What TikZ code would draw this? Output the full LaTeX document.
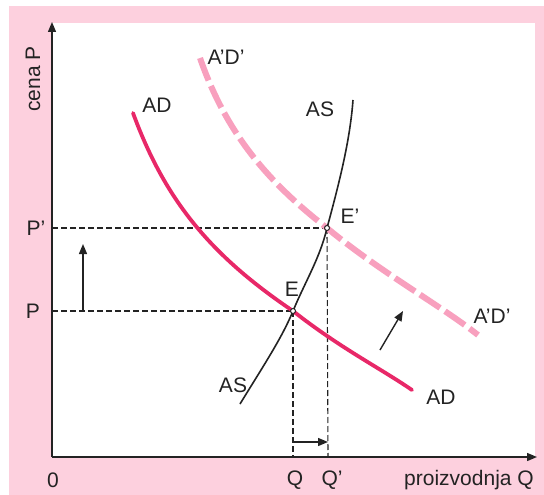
\documentclass[tikz,border=0pt]{standalone}
\usepackage{fontspec}
\setmainfont{Liberation Sans}
\usetikzlibrary{arrows.meta}
\definecolor{bgpink}{RGB}{253,208,222}
\definecolor{adred}{RGB}{232,40,104}
\definecolor{adlight}{RGB}{248,160,190}
\definecolor{ink}{RGB}{35,35,35}
\tikzset{
  lbl/.style={font=\fontsize{21}{23}\selectfont, text=ink, inner sep=0pt},
  axisline/.style={draw=ink, line width=1.4pt},
  guide/.style={draw=ink, line width=1.1pt, dash pattern=on 6pt off 3pt},
  tipped/.style={-{Triangle[length=10pt,width=8pt]}},
  adcurve/.style={draw=adred, line width=3.8pt},
  adshift/.style={draw=adlight, line width=6pt, dash pattern=on 24pt off 6pt},
  ascurve/.style={draw=ink, line width=1.6pt},
  eq/.style={circle, draw=ink, fill=white, line width=1pt, minimum size=5pt, inner sep=0pt},
  shiftarrow/.style={draw=ink, line width=1.4pt}
}
\begin{document}
\begin{tikzpicture}[x=1pt,y=-1pt]
\useasboundingbox (0,0) rectangle (544,495);
\fill[white] (0,0) rectangle (544,495);
\fill[bgpink] (9,6) rectangle (544,495);
\fill[white] (52,23) rectangle (535,457);

% axes
\coordinate (O) at (52,457);
\coordinate (ytop) at (52,22);
\coordinate (xend) at (537,457);
\draw[axisline,tipped] (O) -- (ytop);
\draw[axisline,tipped] (O) -- (xend);

% equilibrium points
\coordinate (E) at (293,311);
\coordinate (Ep) at (327,228);
\coordinate (Pax) at (52,311);
\coordinate (Ppax) at (52,228);
\coordinate (Qax) at (293,457);
\coordinate (Qpax) at (328,457);

% guides
\draw[guide] (Ppax) -- (Ep);
\draw[guide] (Pax) -- (E);
\draw[guide] (E) -- (Qax);
\draw[guide] (Ep) -- (Qpax);

% AD curve
\coordinate (ad1) at (133,113);
\coordinate (ad2) at (412,390);
\draw[adcurve, line cap=round] (ad1) .. controls (165,200) and (210,255) .. (E) .. controls (340,348) and (380,368) .. (ad2);

% A'D' curve
\coordinate (adp1) at (200,58);
\coordinate (adp2) at (478,335);
\draw[adshift] (adp1) .. controls (225,130) and (265,180) .. (Ep) .. controls (380,272) and (440,305) .. (adp2);

% AS curve
\coordinate (as1) at (240,404);
\coordinate (as2) at (353,100);
\draw[ascurve] (as1) .. controls (262,368) and (282,338) .. (E) .. controls (305,282) and (320,258) .. (Ep) .. controls (340,180) and (350,140) .. (as2);

\node[eq] (Ec) at (E) {};
\node[eq] (Epc) at (Ep) {};

% shift arrows
\coordinate (va1) at (83,311);
\coordinate (va2) at (83,244);
\draw[shiftarrow,tipped] (va1) -- (va2);
\coordinate (da1) at (380,350);
\coordinate (da2) at (403,311);
\draw[shiftarrow,tipped] (da1) -- (da2);
\coordinate (ha1) at (293,442);
\coordinate (ha2) at (328,442);
\draw[shiftarrow,tipped] (ha1) -- (ha2);

% labels
\node[lbl, rotate=90] (cena) at (33,79) {cena P};
\node[lbl] (lPp) at (36,228) {P'};
\node[lbl] (lP) at (33,311) {P};
\node[lbl] (l0) at (53,480) {0};
\node[lbl] (lQ) at (295,480) {Q};
\node[lbl] (lQp) at (332,480) {Q'};
\node[lbl, anchor=east] (lprod) at (534,480) {proizvodnja Q};
\node[lbl] (lAD1) at (157,105) {AD};
\node[lbl] (lADp1) at (226,57) {A'D'};
\node[lbl] (lAS1) at (320,109) {AS};
\node[lbl] (lEp) at (350,216) {E'};
\node[lbl] (lE) at (292,289) {E};
\node[lbl] (lADp2) at (492,316) {A'D'};
\node[lbl] (lAD2) at (441,397) {AD};
\node[lbl] (lAS2) at (233,385) {AS};
\end{tikzpicture}
\end{document}
